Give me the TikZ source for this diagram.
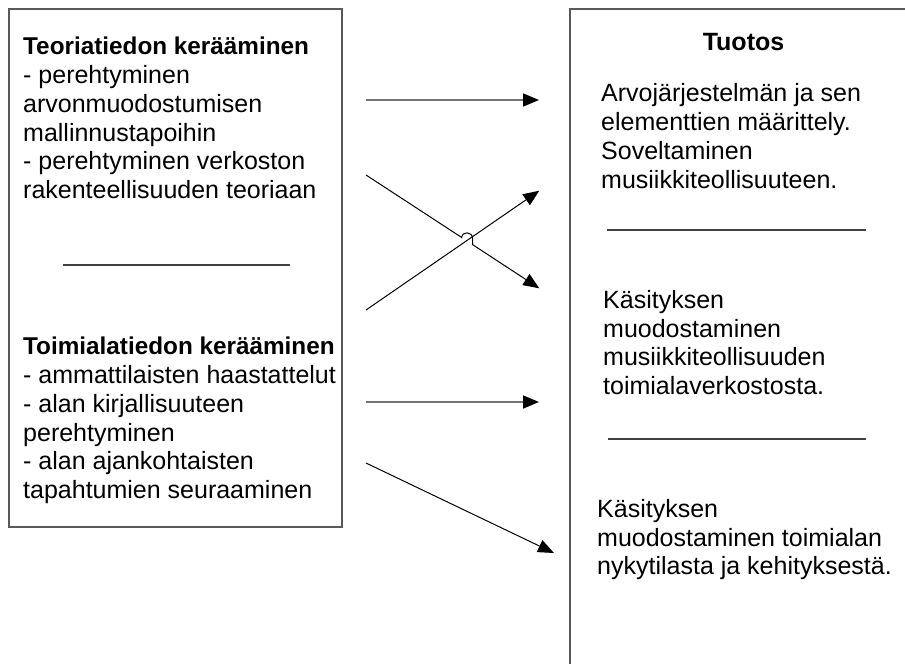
\documentclass[tikz,border=0pt]{standalone}
\usepackage{fontspec}
\setmainfont{Liberation Sans}
\usetikzlibrary{arrows.meta}

\begin{document}
\begin{tikzpicture}[x=1pt,y=-1pt,
  frame/.style={draw=black!65, line width=1.7pt},
  rule/.style={draw=black!75, line width=1.3pt},
  flow/.style={draw=black, line width=1pt, -{Triangle[length=16pt,width=13pt,black]}},
  flowh/.style={flow, draw=black!55, line width=1.7pt},
  txt/.style={font=\fontsize{25}{28.75}\selectfont, align=left, inner sep=0pt, anchor=north west},
  head/.style={font=\fontsize{25}{28.75}\selectfont\bfseries, inner sep=0pt, anchor=base}]

\useasboundingbox (0,0) rectangle (905,664);
\fill[white] (0,0) rectangle (905,664);

% two frames; the right one runs past the page edge
\begin{scope}
  \clip (0,0) rectangle (905,664);
  \draw[frame] (9,9) rectangle (342,527);
  \draw[frame] (570,9) rectangle (918,690);
\end{scope}

% separators
\coordinate (l1a) at (63,265);  \coordinate (l1b) at (290,265);
\coordinate (r1a) at (607,230); \coordinate (r1b) at (866,230);
\coordinate (r2a) at (608,439); \coordinate (r2b) at (866,439);
\draw[rule] (l1a) -- (l1b);
\draw[rule] (r1a) -- (r1b);
\draw[rule] (r2a) -- (r2b);

% left column texts
\node[txt] (teoria) at (23,37) {{\fontsize{24.3}{28.75}\selectfont\bfseries Teoriatiedon kerääminen}\\- perehtyminen\\arvonmuodostumisen\\mallinnustapoihin\\- perehtyminen verkoston\\rakenteellisuuden teoriaan};
\node[txt] (toimiala) at (23,337) {{\fontsize{24.3}{28.75}\selectfont\bfseries Toimialatiedon kerääminen}\\- ammattilaisten haastattelut\\- alan kirjallisuuteen\\perehtyminen\\- alan ajankohtaisten\\tapahtumien seuraaminen};

% right column texts
\node[head] (tuotos) at (743.5,50) {Tuotos};
\node[txt] (arvo) at (601,83.5) {Arvojärjestelmän ja sen\\elementtien määrittely.\\Soveltaminen\\musiikkiteollisuuteen.};
\node[txt] (kasitys1) at (603,290) {Käsityksen\\muodostaminen\\musiikkiteollisuuden\\toimialaverkostosta.};
\node[txt] (kasitys2) at (597,499) {Käsityksen\\muodostaminen toimialan\\nykytilasta ja kehityksestä.};

% arrow end points
\coordinate (h1s) at (366,100);   \coordinate (h1e) at (539,100);
\coordinate (d1s) at (366,175);   \coordinate (d1e) at (539.3,288.3);
\coordinate (hopa) at (461.7,237.5); \coordinate (hopb) at (472.7,239);
\coordinate (hopc) at (472.7,244.7);
\coordinate (u1s) at (366,310);   \coordinate (u1e) at (539.3,190.7);
\coordinate (h2s) at (366,402);   \coordinate (h2e) at (539,402);
\coordinate (d2s) at (366,463);   \coordinate (d2e) at (554,553);

% arrows
\draw[flowh] (h1s) -- (h1e);
\draw[flow] (u1s) -- (u1e);
\draw[flow] (d1s) -- (hopa) .. controls (462,231) and (472.7,231) .. (hopb) -- (hopc) -- (d1e);
\draw[flowh] (h2s) -- (h2e);
\draw[flow] (d2s) -- (d2e);

\end{tikzpicture}
\end{document}
